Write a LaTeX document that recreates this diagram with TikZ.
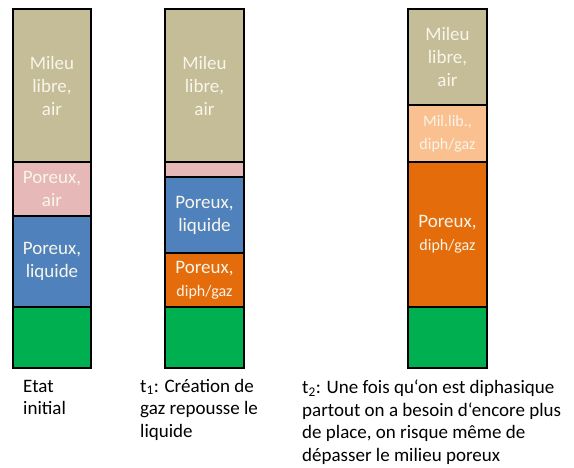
\documentclass[tikz,border=0pt]{standalone}
\usepackage{fontspec}
\setmainfont{Carlito}
\definecolor{beige}{HTML}{C4BD97}
\definecolor{pinkc}{HTML}{E6B9B8}
\definecolor{bluec}{HTML}{4F81BD}
\definecolor{orangec}{HTML}{E46C0A}
\definecolor{lorange}{HTML}{FAC090}
\definecolor{greenc}{HTML}{00B050}
\definecolor{labtxt}{HTML}{F8F5EA}
\tikzset{
  seg/.style={draw=black, line width=1.6pt, rectangle, inner sep=0pt, align=center,
    text=labtxt, font=\fontsize{19}{23}\selectfont},
  captxt/.style={anchor=base west, align=left, inner sep=0pt, text=black,
    font=\fontsize{19}{22.5}\selectfont}
}
\newcommand\smalltxt[1]{{\fontsize{16}{20}\selectfont #1}}
\begin{document}
\begin{tikzpicture}[x=1pt,y=-1pt]
\useasboundingbox (0,0) rectangle (574,468);
% column 1 (x 13-91)
\node[seg, fill=beige, minimum width=78pt, minimum height=153pt] (a1) at (52,85.5) {Mileu\\libre,\\air};
\node[seg, fill=pinkc, minimum width=78pt, minimum height=54pt] (a2) at (52,189) {Poreux,\\air};
\node[seg, fill=bluec, minimum width=78pt, minimum height=91pt] (a3) at (52,261.5) {Poreux,\\liquide};
\node[seg, fill=greenc, minimum width=78pt, minimum height=61pt] (a4) at (52,337.5) {};
% column 2 (x 165-244)
\node[seg, fill=beige, minimum width=79pt, minimum height=153pt] (b1) at (204.5,85.5) {Mileu\\libre,\\air};
\node[seg, fill=pinkc, minimum width=79pt, minimum height=15pt] (b2) at (204.5,169.5) {};
\node[seg, fill=bluec, minimum width=79pt, minimum height=76pt] (b3) at (204.5,215) {Poreux,\\liquide};
\node[seg, fill=orangec, minimum width=79pt, minimum height=54pt] (b4) at (204.5,280) {Poreux,\\\smalltxt{diph/gaz}};
\node[seg, fill=greenc, minimum width=79pt, minimum height=61pt] (b5) at (204.5,337.5) {};
% column 3 (x 408-487)
\node[seg, fill=beige, minimum width=79pt, minimum height=96pt] (c1) at (447.5,57) {Mileu\\libre,\\air};
\node[seg, fill=lorange, minimum width=79pt, minimum height=57pt] (c2) at (447.5,133.5) {\smalltxt{Mil.lib.,}\\\smalltxt{diph/gaz}};
\node[seg, fill=orangec, minimum width=79pt, minimum height=145pt] (c3) at (447.5,234.5) {Poreux,\\\smalltxt{diph/gaz}};
\node[seg, fill=greenc, minimum width=79pt, minimum height=61pt] (c4) at (447.5,337.5) {};
% captions (base anchor = baseline of last line)
\node[captxt] (ta) at (23,414.5) {Etat\\initial};
\node[captxt] (tb) at (140,437) {t\textsubscript{1}: Création de\\gaz repousse le\\liquide};
\node[captxt] (tc) at (302,461) {t\textsubscript{2}: Une fois qu‘on est diphasique\\partout on a besoin d‘encore plus\\de place, on risque même de\\dépasser le milieu poreux};
\end{tikzpicture}
\end{document}
